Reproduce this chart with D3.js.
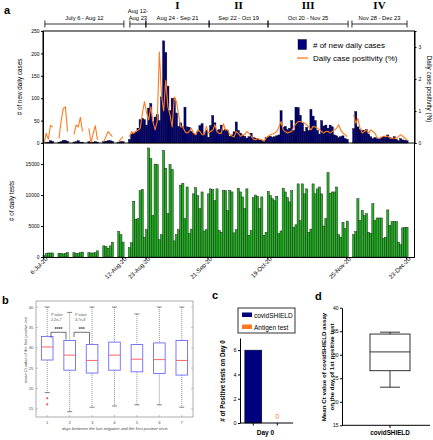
<!DOCTYPE html>
<html><head><meta charset="utf-8">
<script src="https://cdn.jsdelivr.net/npm/d3@7"></script>
<style>body{margin:0;background:#fff}svg{display:block}</style>
</head><body>
<svg id="c" width="433" height="440"></svg>
<script>
// ---------- DATA ----------
// day index 0 = 6-Jul-2020 ... 170 = 23-Dec-2020
const newCases = [
 0,1,2,5,4,null,null, 2,3,6,6,4,null,null, 2,3,5,2,2,null,null, 3,2,2,3,2,null,null, 3,4,5,5,4,null,null, 2,3,3,null,null,
 8,20,22,25,33,52,55,52,40,78, 88,48,58,63,50,103,228,202,127,72, 100,100,67,37,45,36,80,36,35,26,
 22,18,25,39,43,20,28,13,39,61, 45,28,30,40,28,
 30,28,15,18,25,47,28,22,18,15, 11,14,22,12,11,8,7,6,5,12, 14,15,13,14,16,18,72,35,37,30,
 33,50,28,80,79,62,45,26,35,28, 75,60,50,28,20,50,38,40,33,40, 36,18,16,12,14,16,10,8,
 null,null,
 32,70,36,30,28,28,30,20,14,10, 12,11,9,12,15,13,18,12,10,14, 8,5,10,7,6,5
];
const positivity = [
 0,0.3,0.12,0.55,0.5,null,null, 0.15,0.7,1.08,1.13,0.36,null,null, 0.26,0.57,0.5,0.8,0.36,null,null,
 0.46,0,0.3,0.54,0.1,null,null, 0.05,0.2,0.36,0.28,0.2,null,null, 0.05,0.12,0.2,null,null,
 0.2,0.36,0.3,0.36,0.4,0.45,0.9,1.29,0.95,0.72, 1.13,0.67,0.41,0.67,2.84,1.5,1.0,1.96,1.13,0.88,
 0.5,1.44,1.29,0.88,0.5,0.5,0.36,0.31,0.36,0.46, 0.31,0.26,0.41,0.36,0.26,0.26,0.52,0.31,0.36,0.4,
 0.57,0.35,0.3,0.3,0.6,
 0.41,0.41,0.26,0.22,0.19,0.36,0.3,0.21,0.24,0.26, 0.36,0.3,0.21,0.12,0.1,0.15,0.12,0.1,0.05,0.15,
 0.21,0.26,0.28,0.31,0.36,0.5,0.67,0.41,0.35,0.31, 0.34,0.36,0.52,0.6,0.67,0.67,0.65,0.62,0.57,0.5,
 0.41,0.52,0.5,0.46,0.41,0.36,0.31,0.36,0.36,0.31, 0.36,0.41,0.46,0.57,0.4,0.31,0.26,0.2,
 null,null,
 0.88,0.62,0.77,0.46,0.31,0.36,0.41,0.31,0.41,0.36, 0.31,0.15,0.15,0.18,0.21,0.21,0.21,0.15,0.15,0.15,
 0.15,0.2,0.26,0.21,0.15,0.1
];
const dailyTests = [
 200,550,650,650,650,null,null, 600,600,500,600,700,null,null, 700,550,600,700,800,null,null,
 700,650,650,700,1000,null,null, 1800,1700,1400,1800,2400,null,null, 4100,3600,2400,null,null,
 1500,2300,9000,6100,6200,10700,10900,3200,4400,
 17600,15900,6700,15000,14900,2800,3600,
 17200,14300,7000,14900,14100,2600,3600,
 4400,11600,11900,6200,11300,3800,4500,
 10200,11200,9900,7800,10500,4200,4400,
 10200,11000,10900,9100,11000,4300,4000,
 10750,10700,7500,10750,10500,3900,4400,
 11100,10500,9700,7800,11000,3500,4300,
 9600,10000,9800,7800,9700,3500,4000,
 10600,9900,9400,9100,9800,3800,4200,
 11100,10500,9600,8900,10700,4800,5200,
 11800,5900,11800,10200,11000,4000,4500,
 11800,10200,11000,11300,10200,5000,6200,
 13600,10300,10500,10500,11300,3600,3200,
 5600,4600,5800, null,null, 3600,4100,
 9400,5900,7500,6700,7000,4000,3800,8600,5900,6300,6300,6300,3000,3200,7600,5100,5700,5700,5700,2400,2000,4700,4800,4800
];
const dateTickDays = [0, 37, 48, 77, 105, 142, 170];
const dateTickLabels = ["6-Jul-20","12-Aug-20","23-Aug-20","21-Sep-20","19-Oct-20","25-Nov-20","23-Dec-20"];
const periodLabels = ["July 6 - Aug 12", "Aug 12-|Aug 23", "Aug 24 - Sep 21", "Sep 22 - Oct 19", "Oct 20 - Nov 25", "Nov 28 - Dec 23"];
const periodStart = [0.9, 40.7, 48.2, 77.8, 105.4, 144.7];
const periodEnd   = [37.9, 48.2, 77.8, 105.4, 142.9, 170.5];
const periodRoman = ["", "", "I", "II", "III", "IV"];
const casesTicks = [0, 50, 100, 150, 200, 250];
const positivityTicks = [0, 1, 2, 3];
const testsTicks = [0, 5000, 10000, 15000];

// panel b: box stats per group [whiskerLow, q1, median, q3, whiskerHigh]
const bGroups = [1, 2, 3, 4, 5, 6, 7];
const bLow    = [19.0, 14.3, 15.4, 15.7, 16.0, 16.0, 15.4];
const bQ1     = [27.0, 24.5, 23.8, 24.5, 24.1, 23.7, 23.3];
const bMedian = [30.2, 28.2, 26.9, 28.2, 27.2, 27.1, 26.9];
const bQ3     = [32.8, 31.8, 30.8, 31.4, 30.8, 31.2, 31.8];
const bHigh   = [40.0, 38.7, 40.0, 40.0, 38.3, 40.0, 40.0];
const bOutliers = [[1, 17.6], [1, 16.1]];
const bTicks = [15, 20, 25, 30, 35, 40];

// panel c
const cCategories = ["covidSHIELD", "Antigen test"];
const cValues = [6, 0];
const cTicks = [0, 2, 4, 6];

// panel d
const dCategory = ["covidSHIELD"];
const dStats = {low: 23.1, q1: 26.6, median: 30.6, q3: 34.4, high: 34.8};
const dTicks = [15, 20, 25, 30, 35, 40];

// ---------- DRAW ----------
const FONT = "Arial, 'Liberation Sans', Helvetica, sans-serif";
const NAVY = "#00007e", ORANGE = "#ff7a1f", GREEN = "#22b422";
const svg = d3.select("#c");
svg.append("rect").attr("width",433).attr("height",440).attr("fill","#fff");
function txt(g, x, y, s, o = {}) {
  const t = g.append("text").attr("x", x).attr("y", y).text(s)
    .attr("font-family", o.family || FONT).attr("font-size", o.size || 6)
    .attr("fill", o.fill || "#000").attr("text-anchor", o.anchor || "start");
  if (o.weight) t.attr("font-weight", o.weight);
  if (o.style) t.attr("font-style", o.style);
  if (o.rotate !== undefined) t.attr("transform", `rotate(${o.rotate},${x},${y})`);
  return t;
}
function styleAxis(g, size, color) {
  g.selectAll("path.domain").attr("stroke", color || "#000").attr("stroke-width", 1);
  g.selectAll(".tick line").attr("stroke", color || "#000");
  g.selectAll(".tick text").attr("font-family", FONT).attr("font-size", size).attr("fill", color || "#000");
}
const fmtInt = d3.format("d");

// ===== panel a =====
const days = d3.range(newCases.length);
const x = d3.scaleLinear().domain([0, 174]).range([43, 414.5]);
const bw = x(1) - x(0);
const yCases = d3.scaleLinear().domain([0, 250]).range([143, 31]);
const yPos = d3.scaleLinear().domain([0, 3.5]).range([143, 31]);
const yTests = d3.scaleLinear().domain([0, 18400]).range([257, 143]);

const a = svg.append("g");
txt(a, 4, 14, "a", {size: 11, weight: "bold"});

// period brackets
periodLabels.forEach((lab, i) => {
  const x1 = x(periodStart[i]), x2 = x(periodEnd[i]);
  a.append("line").attr("x1", x1).attr("x2", x2).attr("y1", 24).attr("y2", 24).attr("stroke", "#000").attr("stroke-width", 0.8);
  [x1, x2].forEach(xx => a.append("line").attr("x1", xx).attr("x2", xx).attr("y1", 20.5).attr("y2", 27.5).attr("stroke", "#000").attr("stroke-width", 0.8));
  const parts = lab.split("|");
  if (parts.length === 2) {
    txt(a, (x1 + x2) / 2, 12.5, parts[0], {size: 5.8, anchor: "middle"});
    txt(a, (x1 + x2) / 2, 19.5, parts[1], {size: 5.8, anchor: "middle"});
  } else {
    txt(a, (x1 + x2) / 2, 19.5, lab, {size: 5.8, anchor: "middle"});
  }
  if (periodRoman[i]) txt(a, (x1 + x2) / 2, 9, periodRoman[i], {size: 11, weight: "bold", anchor: "middle", family: "'Liberation Serif', 'DejaVu Serif', serif"});
});

// tests bars
a.append("g").selectAll("rect").data(days.filter(d => dailyTests[d] != null)).join("rect")
  .attr("x", d => x(d)).attr("width", bw).attr("y", d => yTests(dailyTests[d]))
  .attr("height", d => yTests(0) - yTests(dailyTests[d]))
  .attr("fill", GREEN).attr("stroke", "#1a1a1a").attr("stroke-width", 0.45);

// cases bars
a.append("g").selectAll("rect").data(days.filter(d => newCases[d] != null)).join("rect")
  .attr("x", d => x(d)).attr("width", bw).attr("y", d => yCases(newCases[d]))
  .attr("height", d => yCases(0) - yCases(newCases[d]))
  .attr("fill", NAVY).attr("stroke", "#000").attr("stroke-width", 0.4);

// positivity line
const line = d3.line().defined(d => positivity[d] != null)
  .x(d => x(d) + bw / 2).y(d => yPos(positivity[d]));
a.append("path").datum(days).attr("d", line).attr("fill", "none")
  .attr("stroke", ORANGE).attr("stroke-width", 1.1).attr("stroke-linejoin", "round");

// frames
a.append("rect").attr("x", 43).attr("y", 31).attr("width", x.range()[1] - 43).attr("height", 112)
  .attr("fill", "none").attr("stroke", "#000").attr("stroke-width", 1);
a.append("line").attr("x1", x.range()[1]).attr("x2", x.range()[1]).attr("y1", 143).attr("y2", 257).attr("stroke", "#000");

// axes
const gl1 = a.append("g").attr("transform", "translate(43,0)").call(d3.axisLeft(yCases).tickValues(casesTicks).tickFormat(fmtInt).tickSize(2).tickPadding(1.5));
styleAxis(gl1, 5);
const gl2 = a.append("g").attr("transform", "translate(43,0)").call(d3.axisLeft(yTests).tickValues(testsTicks).tickFormat(fmtInt).tickSize(2).tickPadding(1.5));
styleAxis(gl2, 5);
const gr = a.append("g").attr("transform", `translate(${x.range()[1]},0)`).call(d3.axisRight(yPos).tickValues(positivityTicks).tickFormat(fmtInt).tickSize(2).tickPadding(2));
styleAxis(gr, 5);
const gb = a.append("g").attr("transform", "translate(0,257)")
  .call(d3.axisBottom(x).tickValues(dateTickDays).tickFormat((d, i) => dateTickLabels[i]).tickSize(2.5).tickSizeOuter(0));
styleAxis(gb, 6);
gb.selectAll(".tick text").attr("text-anchor", "end").attr("dy", 0).attr("y", 5).attr("x", 1.5)
  .attr("transform", "rotate(-45)");

// axis titles
txt(a, 22, 87, "# of new daily cases", {size: 6.3, anchor: "middle", rotate: -90});
txt(a, 14, 201, "# of daily tests", {size: 6.3, anchor: "middle", rotate: -90});
txt(a, 427, 89, "Daily case positivity (%)", {size: 6.3, anchor: "middle", rotate: 90});

// legend
a.append("rect").attr("x", 298).attr("y", 39.5).attr("width", 8.5).attr("height", 10).attr("fill", NAVY).attr("stroke", "#000").attr("stroke-width", 0.4);
txt(a, 313, 47.5, "# of new daily cases", {size: 8});
a.append("line").attr("x1", 297).attr("x2", 308).attr("y1", 58).attr("y2", 58).attr("stroke", ORANGE).attr("stroke-width", 1.3);
txt(a, 313, 61, "Daily case positivity (%)", {size: 8});

// ===== panel b =====
const b = svg.append("g");
txt(b, 2, 304, "b", {size: 11, weight: "bold"});
const xb = d3.scaleLinear().domain([0.5, 7.5]).range([36, 193]);
const yb = d3.scaleLinear().domain([13, 41.5]).range([417, 301]);
const GRAYB = "#8a8a8a";
b.append("rect").attr("x", 36).attr("y", 301).attr("width", 157).attr("height", 116).attr("fill", "none").attr("stroke", GRAYB).attr("stroke-width", 0.7);
bTicks.forEach(t => {
  b.append("line").attr("x1", 36).attr("x2", 38).attr("y1", yb(t)).attr("y2", yb(t)).attr("stroke", GRAYB).attr("stroke-width", 0.5);
  b.append("line").attr("x1", 191).attr("x2", 193).attr("y1", yb(t)).attr("y2", yb(t)).attr("stroke", GRAYB).attr("stroke-width", 0.5);
  txt(b, 33.5, yb(t) + 1.5, t, {size: 4.3, anchor: "end", fill: "#555"});
});
bGroups.forEach(g => {
  b.append("line").attr("x1", xb(g)).attr("x2", xb(g)).attr("y1", 417).attr("y2", 415).attr("stroke", GRAYB).attr("stroke-width", 0.5);
  txt(b, xb(g), 423.5, g, {size: 4.3, anchor: "middle", fill: "#555"});
});
const bhw = 5.8;
bGroups.forEach((g, i) => {
  const cx = xb(g);
  b.append("line").attr("x1", cx).attr("x2", cx).attr("y1", yb(bHigh[i])).attr("y2", yb(bQ3[i])).attr("stroke", "#444").attr("stroke-width", 0.6).attr("stroke-dasharray", "1,1");
  b.append("line").attr("x1", cx).attr("x2", cx).attr("y1", yb(bQ1[i])).attr("y2", yb(bLow[i])).attr("stroke", "#444").attr("stroke-width", 0.6).attr("stroke-dasharray", "1,1");
  [bHigh[i], bLow[i]].forEach(v => b.append("line").attr("x1", cx - 2.5).attr("x2", cx + 2.5).attr("y1", yb(v)).attr("y2", yb(v)).attr("stroke", "#333").attr("stroke-width", 0.6));
  b.append("rect").attr("x", cx - bhw).attr("width", 2 * bhw).attr("y", yb(bQ3[i])).attr("height", yb(bQ1[i]) - yb(bQ3[i]))
    .attr("fill", "none").attr("stroke", "#6b6bff").attr("stroke-width", 0.9);
  b.append("line").attr("x1", cx - bhw).attr("x2", cx + bhw).attr("y1", yb(bMedian[i])).attr("y2", yb(bMedian[i])).attr("stroke", "#ff5050").attr("stroke-width", 0.9);
});
bOutliers.forEach(o => {
  b.append("rect").attr("x", xb(o[0]) - 0.9).attr("y", yb(o[1]) - 0.9).attr("width", 1.8).attr("height", 1.8).attr("fill", "#ff4040");
});
// significance brackets
function bracket(x1, x2, yTop, yL, yR, stars, pLines, px) {
  b.append("path").attr("d", `M${x1},${yL}V${yTop}H${x2}V${yR}`).attr("fill", "none").attr("stroke", "#333").attr("stroke-width", 0.7);
  txt(b, (x1 + x2) / 2, yTop - 1.2, stars, {size: 5, anchor: "middle", weight: "bold", fill: "#333"});
  txt(b, px, 316, pLines[0], {size: 3.6, style: "italic", fill: "#555"});
  txt(b, px, 321, pLines[1], {size: 3.6, style: "italic", fill: "#555"});
}
bracket(51, 66, 332.3, 338, 339.5, "****", ["P value", "2.2e-7"], 51);
bracket(74, 89.5, 332.3, 337, 344, "***", ["P value", "3.7e-8"], 75);
txt(b, 27, 350, "mean Ct value of the first positive test", {size: 4, anchor: "middle", rotate: -90, style: "italic", fill: "#444"});
txt(b, 115, 430, "days between the last negative and the first positive tests", {size: 4.2, anchor: "middle", style: "italic", fill: "#444"});

// ===== panel c =====
const c = svg.append("g");
txt(c, 212, 299, "c", {size: 11, weight: "bold"});
const xc = d3.scalePoint().domain(cCategories).range([253.3, 277.3]);
const yc = d3.scaleLinear().domain([0, 7]).range([423, 338]);
c.append("rect").attr("x", xc(cCategories[0]) - 8.5).attr("width", 17).attr("y", yc(cValues[0])).attr("height", yc(0) - yc(cValues[0]))
  .attr("fill", NAVY).attr("stroke", "#000").attr("stroke-width", 0.5);
txt(c, xc(cCategories[1]), 418.5, String(cValues[1]), {size: 7, anchor: "middle", fill: ORANGE});
const gcy = c.append("g").attr("transform", "translate(240,0)").call(d3.axisLeft(yc).tickValues(cTicks).tickFormat(fmtInt).tickSize(2).tickSizeOuter(0).tickPadding(1.5));
styleAxis(gcy, 5.5);
c.append("line").attr("x1", 240).attr("x2", 293).attr("y1", 423).attr("y2", 423).attr("stroke", "#000");
cCategories.forEach(k => c.append("line").attr("x1", xc(k)).attr("x2", xc(k)).attr("y1", 423).attr("y2", 425.5).attr("stroke", "#000"));
txt(c, 265.5, 435, "Day 0", {size: 6.5, anchor: "middle", weight: "bold"});
txt(c, 225, 381, "# of Positive tests on Day 0", {size: 6.3, anchor: "middle", rotate: -90, weight: "bold"});
// legend
c.append("rect").attr("x", 238).attr("y", 308).attr("width", 57).attr("height", 25).attr("fill", "#fff").attr("stroke", "#000").attr("stroke-width", 0.8);
c.append("rect").attr("x", 242).attr("y", 312.5).attr("width", 10).attr("height", 4.5).attr("fill", NAVY);
txt(c, 254, 317.5, cCategories[0], {size: 6.5});
c.append("rect").attr("x", 242).attr("y", 324.5).attr("width", 10).attr("height", 4.5).attr("fill", ORANGE);
txt(c, 254, 329.5, cCategories[1], {size: 6.5});

// ===== panel d =====
const dg = svg.append("g");
txt(dg, 315, 300, "d", {size: 11, weight: "bold"});
const xd = d3.scalePoint().domain(dCategory).range([390, 390]);
const yd = d3.scaleLinear().domain([15, 40]).range([425.3, 307.7]);
const gdy = dg.append("g").attr("transform", "translate(342,0)").call(d3.axisLeft(yd).tickValues(dTicks).tickFormat(fmtInt).tickSize(2).tickSizeOuter(0).tickPadding(1.5));
styleAxis(gdy, 5);
dg.append("line").attr("x1", 342).attr("x2", 430).attr("y1", 425.3).attr("y2", 425.3).attr("stroke", "#000");
dg.append("line").attr("x1", xd(dCategory[0])).attr("x2", xd(dCategory[0])).attr("y1", 425.3).attr("y2", 428).attr("stroke", "#000");
const dc = xd(dCategory[0]);
dg.append("line").attr("x1", dc).attr("x2", dc).attr("y1", yd(dStats.high)).attr("y2", yd(dStats.q3)).attr("stroke", "#000").attr("stroke-width", 0.8);
dg.append("line").attr("x1", dc).attr("x2", dc).attr("y1", yd(dStats.q1)).attr("y2", yd(dStats.low)).attr("stroke", "#000").attr("stroke-width", 0.8);
[dStats.high, dStats.low].forEach(v => dg.append("line").attr("x1", dc - 10).attr("x2", dc + 10).attr("y1", yd(v)).attr("y2", yd(v)).attr("stroke", "#000").attr("stroke-width", 0.8));
dg.append("rect").attr("x", dc - 20).attr("width", 40).attr("y", yd(dStats.q3)).attr("height", yd(dStats.q1) - yd(dStats.q3))
  .attr("fill", "#fff").attr("stroke", "#000").attr("stroke-width", 0.8);
dg.append("line").attr("x1", dc - 20).attr("x2", dc + 20).attr("y1", yd(dStats.median)).attr("y2", yd(dStats.median)).attr("stroke", "#000").attr("stroke-width", 0.8);
txt(dg, dc, 435, dCategory[0], {size: 6.3, anchor: "middle", weight: "bold"});
txt(dg, 326, 367, "Mean Ct value of covidSHIELD assay", {size: 6.2, anchor: "middle", rotate: -90, weight: "bold"});
txt(dg, 334, 367, "on the day of 1st positive test", {size: 6.2, anchor: "middle", rotate: -90, weight: "bold"});
</script>
</body></html>
